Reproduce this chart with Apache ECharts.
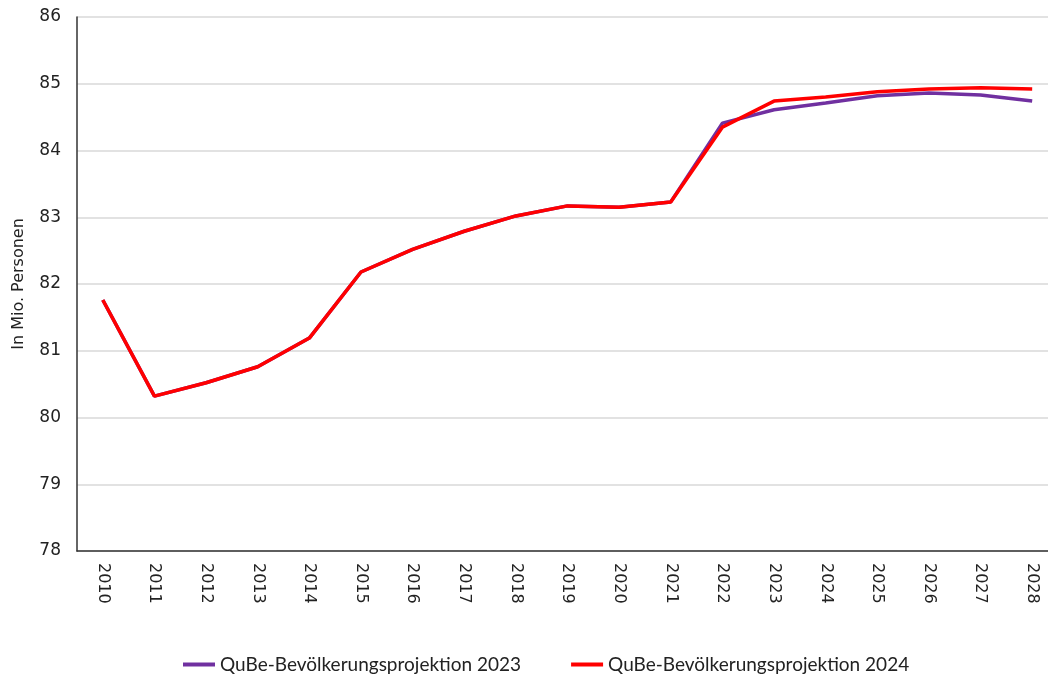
<!DOCTYPE html>
<html><head><meta charset="utf-8">
<script src="https://cdn.jsdelivr.net/npm/echarts@6/dist/echarts.min.js"></script>
<style>html,body{margin:0;padding:0;background:#fff}#c{width:1048px;height:682px}</style>
</head><body><div id="c"></div>
<script>
var years = ['2010','2011','2012','2013','2014','2015','2016','2017','2018','2019','2020','2021','2022','2023','2024','2025','2026','2027','2028'];
var proj2023 = [81.76,80.32,80.52,80.76,81.19,82.18,82.52,82.79,83.02,83.17,83.15,83.23,84.41,84.61,84.71,84.82,84.86,84.83,84.74];
var proj2024 = [81.76,80.32,80.52,80.76,81.19,82.18,82.52,82.79,83.02,83.17,83.15,83.23,84.35,84.74,84.80,84.88,84.92,84.94,84.92];
var names = ['QuBe-Bevölkerungsprojektion 2023','QuBe-Bevölkerungsprojektion 2024'];
var chart = echarts.init(document.getElementById('c'), null, {renderer:'canvas'});
chart.setOption({
  animation:false,
  grid:{left:77,width:981,top:17,height:534,outerBoundsMode:'none',containLabel:false},
  legend:{left:178,bottom:3,itemGap:50,itemWidth:32,itemHeight:4,icon:'rect',
    textStyle:{fontFamily:'Lato',fontSize:19,color:'#222'},data:names},
  xAxis:{type:'category',data:years,boundaryGap:true,
    axisLine:{lineStyle:{color:'#333',width:1.5}},axisTick:{show:false},
    axisLabel:{rotate:-90,margin:12,fontFamily:'DejaVu Sans',fontSize:16,color:'#222'}},
  yAxis:{type:'value',min:78,max:86,interval:1,name:'In Mio. Personen',nameLocation:'middle',nameGap:50,
    nameTextStyle:{fontFamily:'DejaVu Sans',fontSize:16,color:'#222'},
    axisLine:{show:true,lineStyle:{color:'#333',width:1.5}},axisTick:{show:false},
    axisLabel:{margin:16,fontFamily:'DejaVu Sans',fontSize:17,color:'#222'},
    splitLine:{lineStyle:{color:'#d9d9d9',width:1.5}}},
  series:[
    {name:names[0],type:'line',data:proj2023,symbol:'none',lineStyle:{color:'#7030A0',width:3.5},itemStyle:{color:'#7030A0'},z:2},
    {name:names[1],type:'line',data:proj2024,symbol:'none',lineStyle:{color:'#FF0000',width:3.5},itemStyle:{color:'#FF0000'},z:3}
  ]
});
</script></body></html>
